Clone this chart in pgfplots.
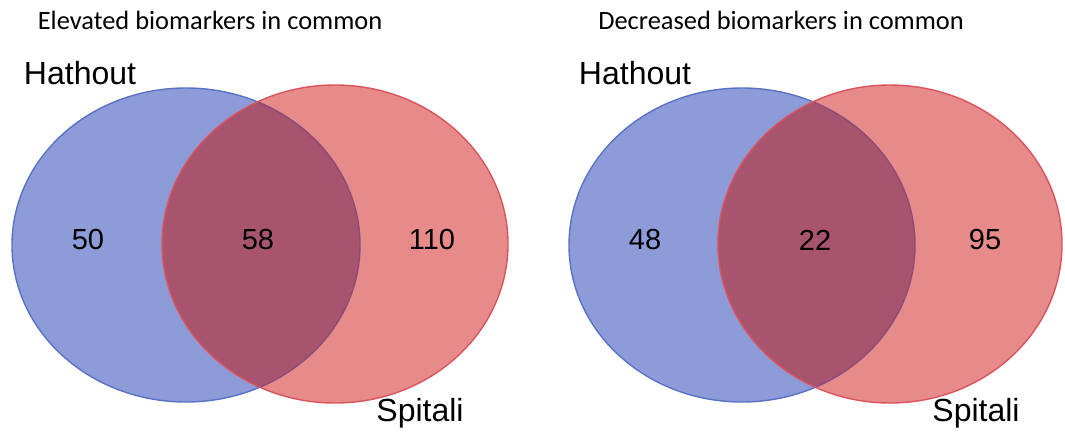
\documentclass[border=0pt]{standalone}
\usepackage{pgfplots}
\pgfplotsset{compat=1.18}
\usepackage{fontspec}
\setmainfont{Liberation Sans}
\newfontfamily\calib{Carlito}
\definecolor{bfill}{HTML}{8D9BD8}
\definecolor{bedge}{HTML}{5A72C6}
\definecolor{rfill}{HTML}{E68A8A}
\definecolor{redge}{HTML}{D9545E}
\definecolor{ofill}{HTML}{A8546F}
\definecolor{oedge}{HTML}{8C4C7A}
\begin{document}
\begin{tikzpicture}
\begin{axis}[hide axis, scale only axis, width=532.5pt, height=217.5pt,
  xmin=0, xmax=1065, ymin=0, ymax=435, y dir=reverse, clip=false]
\path (rel axis cs:0,0) rectangle (rel axis cs:1,1);
% left diagram
\fill[bfill] (axis cs:186,245) ellipse [x radius=174, y radius=157];
\draw[bedge, line width=0.7pt] (axis cs:186,245) ellipse [x radius=174, y radius=157];
\fill[rfill] (axis cs:335,244) ellipse [x radius=173, y radius=159];
\begin{scope}
\clip (axis cs:335,244) ellipse [x radius=173, y radius=159];
\fill[ofill] (axis cs:186,245) ellipse [x radius=174, y radius=157];
\draw[oedge, line width=0.7pt] (axis cs:186,245) ellipse [x radius=174, y radius=157];
\end{scope}
\draw[redge, line width=0.7pt] (axis cs:335,244) ellipse [x radius=173, y radius=159];
% right diagram
\fill[bfill] (axis cs:742,245) ellipse [x radius=173, y radius=157];
\draw[bedge, line width=0.7pt] (axis cs:742,245) ellipse [x radius=173, y radius=157];
\fill[rfill] (axis cs:890,244) ellipse [x radius=172, y radius=159];
\begin{scope}
\clip (axis cs:890,244) ellipse [x radius=172, y radius=159];
\fill[ofill] (axis cs:742,245) ellipse [x radius=173, y radius=157];
\draw[oedge, line width=0.7pt] (axis cs:742,245) ellipse [x radius=173, y radius=157];
\end{scope}
\draw[redge, line width=0.7pt] (axis cs:890,244) ellipse [x radius=172, y radius=159];
% counts
\addplot[only marks, mark=none, nodes near coords, point meta=explicit symbolic,
  every node near coord/.style={anchor=center, font=\fontsize{14.5}{16}\selectfont, text=black}]
  table[meta=label] {
x y label
88 240 50
258 240 58
432 240 110
645 240 48
815 240 22
985 240 95
};
% labels
\node[font=\calib\fontsize{13.2}{15}\selectfont] at (axis cs:210,20) {Elevated biomarkers in common};
\node[font=\calib\fontsize{13.2}{15}\selectfont] at (axis cs:781,20) {Decreased biomarkers in common};
\node[font=\fontsize{16}{18}\selectfont] at (axis cs:80,73) {Hathout};
\node[font=\fontsize{16}{18}\selectfont] at (axis cs:635,73) {Hathout};
\node[font=\fontsize{16}{18}\selectfont] at (axis cs:420,413) {Spitali};
\node[font=\fontsize{16}{18}\selectfont] at (axis cs:976,413) {Spitali};
\end{axis}
\end{tikzpicture}
\end{document}
